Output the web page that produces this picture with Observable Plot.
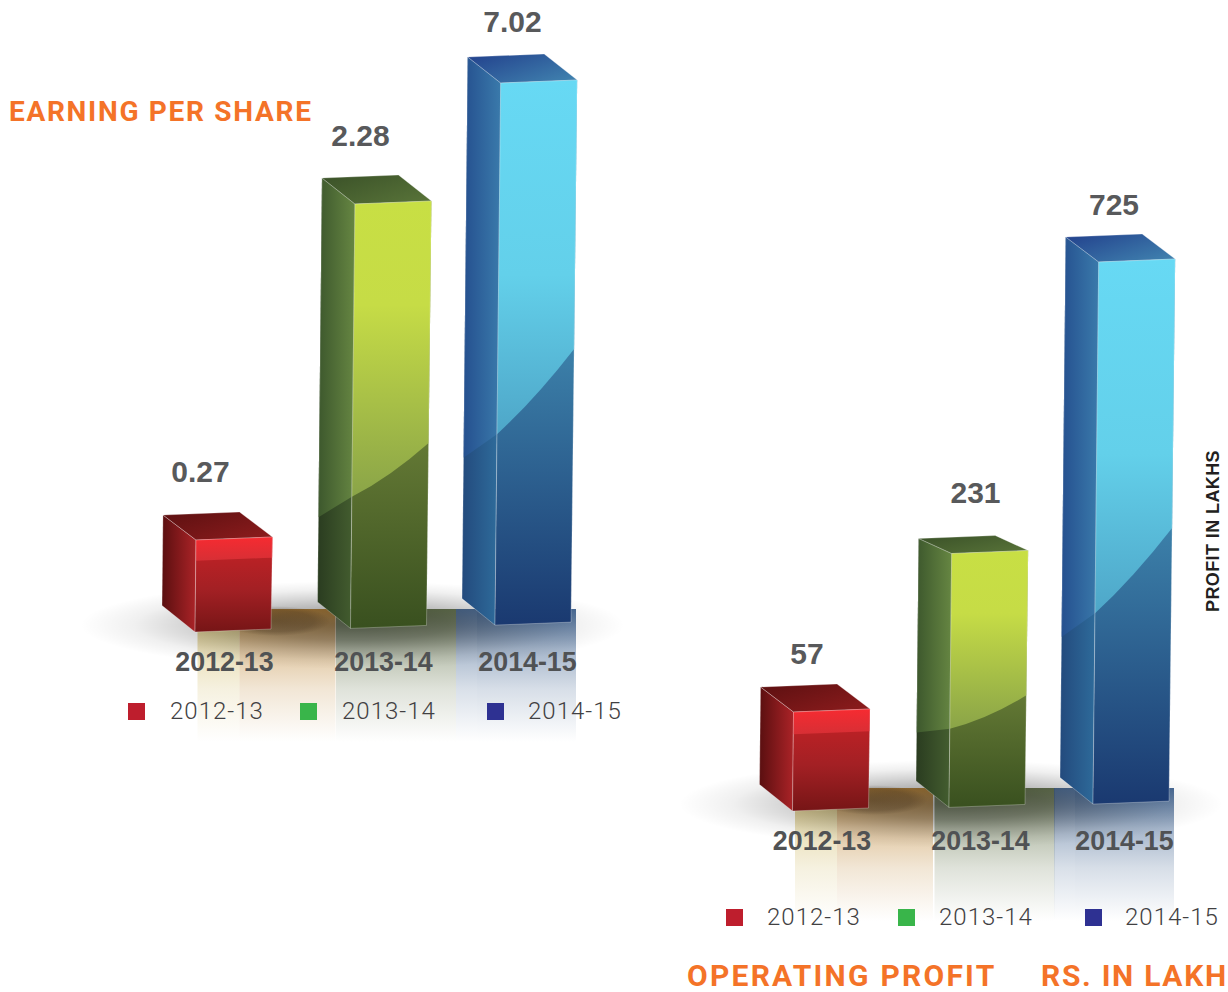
<!DOCTYPE html>
<html><head><meta charset="utf-8">
<script src="https://cdn.jsdelivr.net/npm/d3@7"></script>
<script src="https://cdn.jsdelivr.net/npm/@observablehq/plot@0.6"></script>
<style>
html,body{margin:0;padding:0;background:#fff;overflow:hidden;width:1228px;height:992px}
#page{position:relative;width:1228px;height:992px;overflow:hidden}
.panel{position:absolute;width:630px;height:813px}
.panel svg{position:absolute;left:0;top:0;background:transparent}
.title{position:absolute;white-space:nowrap;font:700 28px Roboto,sans-serif;color:#f47328;line-height:1}
.sw{position:absolute;width:17px;height:17px}
.lg{position:absolute;font:300 24px Roboto,sans-serif;letter-spacing:1px;color:#414042;line-height:1;white-space:nowrap}
</style></head><body><div id="page"></div>
<script>
const years = [2012, 2013, 2014];
const categories = ["2012-13", "2013-14", "2014-15"];
const legendColors = ["#be1e2d", "#39b54a", "#2e3192"];
const epsValues = [0.27, 2.28, 7.02];
const profitValues = [57, 231, 725];
const epsLabels = ["0.27", "2.28", "7.02"];
const profitLabels = ["57", "231", "725"];

// Drawing styles for the pseudo-3D columns.
const palette = [
  {name:"r", side:["#5a0f10","#ab2327"], top:["#5c1011","#8a1b1c"], dark:[["0","#c82226"],["0.55","#a32024"],["1","#761516"]],
   gloss:[["0","#f62b31"],["1","#d72f35"]], sideGloss:null, f:[.225,.225,.225]},
  {name:"g", side:["#2a3c20","#455f30"], top:["#3a5128","#577238"], dark:[["0","#6c8138"],["0.5","#6a7f38"],["1","#39501f"]],
   gloss:[["0","#c8df44"],["0.35","#c6dc46"],["1","#8aa448"]], sideGloss:["#3d582d","#668642"], f:[.69,.57,.8]},
  {name:"b", side:["#234a7d","#2f6e9d"], top:["#22408c","#3f80ae"], dark:[["0","#418bb2"],["0.42","#418bb2"],["1","#1a3970"]],
   gloss:[["0","#67d9f4"],["0.55","#63d0ea"],["1","#4ea6c8"]], sideGloss:["#25508f","#3a7aab"], f:[.648,.496,.74]}
];
const BAR_W = 76, DEPTH_X = 33, SHEAR = 0.0105, SKEW = 3, FLOOR_TILT = 0.023;

const reflections = [
  {bar:0, from:2.5,   to:44.5, color:"#d4bf70", o:1},
  {bar:0, from:44.5,  to:140.5, color:"#bf8838", o:.95},
  {bar:1, from:-14.5, to:105.5, color:"#66764e", o:.95},
  {bar:2, from:-39,   to:-18, color:"#3f628f", o:.9},
  {bar:2, from:-18,   to:81, color:"#3f628f", o:.95}
];

const lerp = (a,b,t)=>[a[0]+(b[0]-a[0])*t, a[1]+(b[1]-a[1])*t];
const P = p=>p[0].toFixed(2)+","+p[1].toFixed(2);
const NS = "http://www.w3.org/2000/svg";

function defsMark(id){
  return () => {
    const d = document.createElementNS(NS,"defs");
    const grad = (gid, stops, x2, y2, tag="linearGradient")=>{
      const g = document.createElementNS(NS,tag);
      g.setAttribute("id",id+gid);
      if(tag==="linearGradient"){g.setAttribute("x1",0);g.setAttribute("y1",0);g.setAttribute("x2",x2);g.setAttribute("y2",y2);}
      for(const [o,c,a] of stops){const s=document.createElementNS(NS,"stop");s.setAttribute("offset",o);s.setAttribute("stop-color",c);if(a!=null)s.setAttribute("stop-opacity",a);g.appendChild(s);}
      d.appendChild(g);
    };
    palette.forEach(p=>{
      grad(p.name+"side", [["0",p.side[0]],["1",p.side[1]]],1,0);
      grad(p.name+"top", [["0",p.top[0]],["1",p.top[1]]],1,.8);
      grad(p.name+"dark", p.dark,0,1);
      grad(p.name+"gloss", p.gloss,0,1);
      if(p.sideGloss) grad(p.name+"sg", [["0",p.sideGloss[0]],["1",p.sideGloss[1]]],1,0);
    });
    reflections.forEach((r,k)=>grad("rf"+k,[["0",r.color,r.o],["0.3",r.color,r.o*.5],["0.6",r.color,r.o*.22],["1",r.color,0]],0,1));
    grad("shadow",[["0","#000",.42],["0.35","#000",.32],["0.6","#000",.17],["0.8","#000",.06],["1","#000",0]],0,0,"radialGradient");
    grad("spot",[["0","#3a2a1a",.4],["0.7","#3a2a1a",.28],["1","#3a2a1a",0]],0,0,"radialGradient");
    return d;
  };
}

// Each face is a Plot rect whose scaled x/y channels are turned into the projected polygon.
function faces(rows, id, topDepth){
  return (index, scales, values, dims, ctx, next)=>{
    const g = next(index, scales, values, dims, ctx);
    const x0 = values.x1[index[0]];
    [...g.querySelectorAll("rect")].forEach((rect,k)=>{
      const i = index[k], p = palette[i];
      const xb = values.x1[i], yb = values.y1[i]-FLOOR_TILT*(xb-x0), yt = values.y2[i];
      const xt = xb+SHEAR*(yb-yt), dT = topDepth[i];
      const FBL=[xb,yb],FBR=[xb+BAR_W,yb-SKEW],FTL=[xt,yt],FTR=[xt+BAR_W+.5,yt-SKEW];
      const BTL=[xt-DEPTH_X,yt-dT],BTR=[xt+BAR_W+.5-DEPTH_X,yt-SKEW-dT],BBL=[xb-DEPTH_X,yb-26.5];
      const add=(d,fill,stroke)=>{
        const e=document.createElementNS(NS,"path");
        e.setAttribute("d",d);e.setAttribute("fill",fill);
        if(stroke){e.setAttribute("stroke","#fff");e.setAttribute("stroke-opacity",.3);e.setAttribute("stroke-width",.9);e.setAttribute("stroke-linejoin","round");}
        g.insertBefore(e,rect);
      };
      const u=n=>`url(#${id}${p.name}${n})`;
      const poly=a=>"M"+a.map(P).join("L")+"Z";
      add(poly([BTL,FTL,FBL,BBL]),u("side"));
      if(p.sideGloss){
        const a=lerp(FTL,FBL,p.f[0]), b=lerp(BTL,BBL,p.f[2]);
        add(poly([BTL,FTL,a,b]),u("sg"));
      }
      add(poly([BTL,FTL,FBL,BBL]),"none",true);
      add(poly([BTL,BTR,FTR,FTL]),u("top"),true);
      add(poly([FTL,FTR,FBR,FBL]),u("dark"));
      const a=lerp(FTL,FBL,p.f[0]), b=lerp(FTR,FBR,p.f[1]);
      const bend = p.sideGloss?7:0, c=[(a[0]+b[0])/2,(a[1]+b[1])/2+bend];
      add("M"+P(FTL)+"L"+P(FTR)+"L"+P(b)+"Q"+P(c)+" "+P(a)+"Z",u("gloss"));
      add(poly([FTL,FTR,FBR,FBL]),"none",true);
      rect.remove();
    });
    return g;
  };
}

function floorMark(id){
  return (index, {x,y})=>{
    const g=document.createElementNS(NS,"g");
    const y0=y(0), top=y0-23, bot=y0+110;
    const el=(t,at)=>{const e=document.createElementNS(NS,t);for(const k in at)e.setAttribute(k,at[k]);g.appendChild(e);};
    reflections.forEach((r,k)=>{
      const X=x(years[r.bar]);
      el("rect",{x:X+r.from,y:top,width:r.to-r.from,height:bot-top,fill:`url(#${id}rf${k})`});
    });
    el("ellipse",{cx:x(years[1])+2,cy:y0-7,rx:272,ry:44,fill:`url(#${id}shadow)`});
    el("ellipse",{cx:x(years[0])+81,cy:y0-11,rx:54,ry:15,fill:`url(#${id}spot)`});
    return g;
  };
}

function panel(id, left, top, values, labels, yRange, xRange, opts){
  const rows = years.map((year,i)=>({year, value:values[i], label:labels[i], cat:categories[i], i}));
  const valueOffsets = opts.valueOffsets, catOffsets=opts.catOffsets;
  const plot = Plot.plot({
    width:630, height:813, margin:0,
    x:{type:"linear", domain:years, range:xRange, axis:null},
    y:{type:"linear", domain:[0,...values], range:yRange, axis:null},
    marks:[
      defsMark(id),
      floorMark(id),
      Plot.rect(rows,{x1:"year",x2:"year",y1:()=>0,y2:"value",fill:"#888",render:faces(rows,id,opts.topDepth)}),
      ...rows.map((r,i)=>Plot.text([r],{x:"year",y:"value",text:"label",dx:valueOffsets[i][0],dy:valueOffsets[i][1],
        fontFamily:"Liberation Sans",fontWeight:700,fontSize:30,fill:"#58595b"})),
      ...rows.map((r,i)=>Plot.text([r],{x:"year",y:()=>0,text:"cat",dx:catOffsets[i],dy:30,
        fontFamily:"Liberation Sans",fontWeight:700,fontSize:26.8,fill:"#505254"}))
    ]
  });
  const div=document.createElement("div");
  div.className="panel";div.style.left=left+"px";div.style.top=top+"px";
  div.appendChild(plot);
  [[127.5,170],[299.5,342],[486.5,528]].forEach(([sx,tx],i)=>{
    const s=document.createElement("div");s.className="sw";s.style.left=sx+"px";s.style.top=(opts.legendY-8.5)+"px";s.style.background=legendColors[i];div.appendChild(s);
    const t=document.createElement("div");t.className="lg";t.textContent=categories[i];t.style.left=(tx-opts.legendShift)+"px";t.style.top=(opts.legendY-12.5)+"px";div.appendChild(t);
  });
  document.getElementById("page").appendChild(div);
}

panel("a",0,0,epsValues,epsLabels,[632,540,204,83],[195,350.5,495],
  {topDepth:[25,26,26],legendY:711,legendShift:0,catOffsets:[29,32.5,32],valueOffsets:[[5,-68],[9.5,-68],[17,-61]]});
panel("b",598,179,profitValues,profitLabels,[632,533,374.5,83],[194.5,351,495],
  {topDepth:[25,15,25],legendY:738,legendShift:1,catOffsets:[29,31,31],valueOffsets:[[14,-58],[26,-60.5],[20.5,-57]]});

const addTitle=(text,left,top,ls,css="")=>{
  const d=document.createElement("div");d.className="title";d.textContent=text;
  d.style.left=left+"px";d.style.top=top+"px";d.style.letterSpacing=ls+"px";d.style.cssText+=css;
  document.getElementById("page").appendChild(d);
};
addTitle("EARNING PER SHARE",9,98,1.7);
addTitle("OPERATING PROFIT",687,961,2.25,"font-size:30px;");
addTitle("RS. IN LAKH",1041,961,1.7,"font-size:30px;");
addTitle("PROFIT IN LAKHS",1203,612,0.4,"font:700 18px 'Liberation Sans',sans-serif;color:#231f20;transform-origin:0 0;transform:rotate(-90deg);");
</script></body></html>
